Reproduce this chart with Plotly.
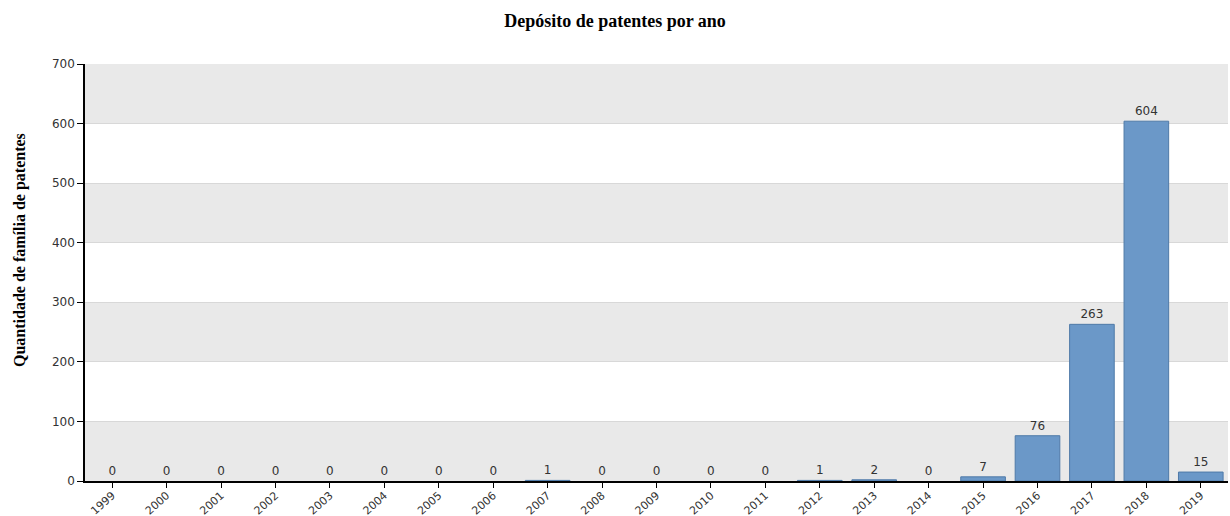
import plotly.graph_objects as go

years = [str(y) for y in range(1999, 2020)]
counts = [0, 0, 0, 0, 0, 0, 0, 0, 1, 0, 0, 0, 0, 1, 2, 0, 7, 76, 263, 604, 15]
y_ticks = [0, 100, 200, 300, 400, 500, 600, 700]

fig = go.Figure()
fig.add_trace(go.Bar(
    x=years, y=counts,
    text=[str(v) for v in counts],
    textposition="outside",
    cliponaxis=False,
    textfont=dict(family="Verdana, DejaVu Sans", size=12, color="#333333"),
    marker=dict(color="#6b98c8",
                line=dict(color="#4f7aa8", width=[0 if v == 0 else 1 for v in counts])),
    width=0.82,
))

# alternating horizontal bands
shapes = []
for i in range(len(y_ticks) - 1):
    if (len(y_ticks) - 2 - i) % 2 == 0:
        shapes.append(dict(type="rect", xref="paper", yref="y", x0=0, x1=1,
                           y0=y_ticks[i], y1=y_ticks[i + 1],
                           fillcolor="#e9e9e9", line=dict(width=0), layer="below"))

fig.update_layout(
    width=1230, height=516,
    margin=dict(l=85, r=2, t=64, b=35),
    paper_bgcolor="white", plot_bgcolor="white",
    shapes=shapes,
    showlegend=False,
    title=dict(text="<b>Depósito de patentes por ano</b>", x=0.5, xanchor="center",
               xref="container", yref="container", y=1 - 21 / 516, yanchor="middle",
               font=dict(family="Times New Roman, Liberation Serif", size=18, color="#000000")),
    xaxis=dict(type="category", tickangle=-42, showgrid=False,
               ticks="outside", ticklen=5, tickcolor="#000000",
               ticklabelstandoff=-3,
               showline=True, linecolor="#000000", linewidth=1.5,
               tickfont=dict(family="Verdana, DejaVu Sans", size=11, color="#333333"),
               automargin=False, range=[-0.5, 20.5]),
    yaxis=dict(range=[0, 700], tickvals=y_ticks, showgrid=True, gridcolor="#d8d8d8",
               ticks="outside", ticklen=6, tickcolor="#000000",
               showline=True, linecolor="#000000", linewidth=1.5, zeroline=False,
               tickfont=dict(family="Verdana, DejaVu Sans", size=12, color="#333333"),
               automargin=False),
    annotations=[dict(text="<b>Quantidade de família de patentes</b>", textangle=-90,
                      xref="paper", yref="paper", x=0, y=(481 - 250) / 417, xanchor="center",
                      yanchor="middle", xshift=-65, showarrow=False,
                      font=dict(family="Times New Roman, Liberation Serif", size=16,
                                color="#000000"))],
)

fig.write_html("out.html")
